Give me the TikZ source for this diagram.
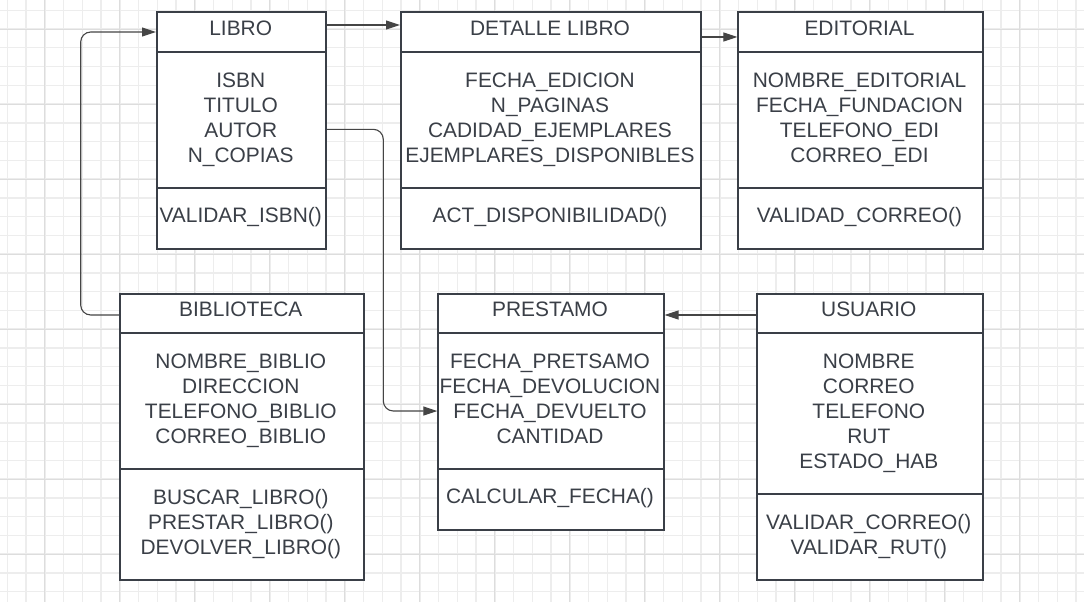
\documentclass[tikz,border=0pt]{standalone}
\usepackage{fontspec}
\setmainfont{Liberation Sans}
\usetikzlibrary{arrows.meta}
\definecolor{ink}{HTML}{3A3F47}
\definecolor{wire}{HTML}{454545}
\definecolor{gridlo}{HTML}{EDEDED}
\definecolor{gridhi}{HTML}{DDDDDD}
\tikzset{
  klass/.style={draw=ink, line width=1.8pt, fill=white, rectangle, inner sep=0pt, anchor=north west},
  sepline/.style={draw=ink, line width=1.8pt},
  txt/.style={font=\fontsize{20.9}{25.2}\selectfont, text=ink, align=center, inner sep=0pt, anchor=north},
  conn/.style={draw=wire, line width=1.1pt, -{Triangle[length=14pt, width=9pt]}},
  minorline/.style={draw=gridlo, line width=1.4pt},
  majorline/.style={draw=gridhi, line width=0.8pt}
}

\begin{document}
\begin{tikzpicture}[x=1pt, y=-1pt]
		\fill[white](0, 0) rectangle (1084, 602);
		\useasboundingbox(0, 0) rectangle (1084, 602);
		% grid
		\foreach \gx in {0,...,57} \draw[minorline](7.3+18.75*\gx, 0)--(7.3+18.75*\gx, 602);
		\foreach \gy in {0,...,31} \draw[minorline](0, 10.3+18.75*\gy)--(1084, 10.3+18.75*\gy);
		\foreach \gx in {0,...,13} \draw[majorline](44.8+75*\gx, 0)--(44.8+75*\gx, 602);
		\foreach \gy in {0,...,7} \draw[majorline](0, 29.3+75*\gy)--(1084, 29.3+75*\gy);
		% classes
		\node[klass, minimum width=169.3, minimum height=237.3] (libro) at (156, 11) {};
		\node[klass, minimum width=300, minimum height=237.3] (detalle) at (400, 11) {};
		\node[klass, minimum width=244.4, minimum height=237.3] (editorial) at (737.3, 11) {};
		\node[klass, minimum width=243.7, minimum height=286.3] (biblio) at (119, 292.7) {};
		\node[klass, minimum width=225.4, minimum height=236.6] (prestamo) at (437.3, 292.7) {};
		\node[klass, minimum width=225.7, minimum height=286.3] (usuario) at (756, 292.7) {};
		\draw[sepline](156, 51.7)--(325.3, 51.7) (156, 187.7)--(325.3, 187.7);
		\draw[sepline](400, 51.7)--(700, 51.7) (400, 187.7)--(700, 187.7);
		\draw[sepline](737.3, 51.7)--(981.7, 51.7) (737.3, 187.7)--(981.7, 187.7);
		\draw[sepline](119, 332.7)--(362.7, 332.7) (119, 468.7)--(362.7, 468.7);
		\draw[sepline](437.3, 332.7)--(662.7, 332.7) (437.3, 468.7)--(662.7, 468.7);
		\draw[sepline](756, 332.7)--(981.7, 332.7) (756, 494)--(981.7, 494);
		% texts
		\node[txt] (libro-t) at (240.7, 21){LIBRO};
		\node[txt] (libro-a) at (240.7, 72.3){ISBN\\TITULO\\AUTOR\\N\_COPIAS};
		\node[txt] (libro-m) at (240.7, 207.5){VALIDAR\_ISBN()};
		\node[txt] (detalle-t) at (550, 21){DETALLE LIBRO};
		\node[txt] (detalle-a) at (550, 72.3){FECHA\_EDICION\\N\_PAGINAS\\CADIDAD\_EJEMPLARES\\EJEMPLARES\_DISPONIBLES};
		\node[txt] (detalle-m) at (550, 207.5){ACT\_DISPONIBILIDAD()};
		\node[txt] (editorial-t) at (859.5, 21){EDITORIAL};
		\node[txt] (editorial-a) at (859.5, 72.3){NOMBRE\_EDITORIAL\\FECHA\_FUNDACION\\TELEFONO\_EDI\\CORREO\_EDI};
		\node[txt] (editorial-m) at (859.5, 207.5){VALIDAD\_CORREO()};
		\node[txt] (biblio-t) at (240.8, 301.7){BIBLIOTECA};
		\node[txt] (biblio-a) at (240.8, 353.3){NOMBRE\_BIBLIO\\DIRECCION\\TELEFONO\_BIBLIO\\CORREO\_BIBLIO};
		\node[txt] (biblio-m) at (240.8, 488.8){BUSCAR\_LIBRO()\\PRESTAR\_LIBRO()\\DEVOLVER\_LIBRO()};
		\node[txt] (prestamo-t) at (550, 301.7){PRESTAMO};
		\node[txt] (prestamo-a) at (550, 353.3){FECHA\_PRETSAMO\\FECHA\_DEVOLUCION\\FECHA\_DEVUELTO\\CANTIDAD};
		\node[txt] (prestamo-m) at (550, 488.3){CALCULAR\_FECHA()};
		\node[txt] (usuario-t) at (868.8, 301.7){USUARIO};
		\node[txt] (usuario-a) at (868.8, 353.3){NOMBRE\\CORREO\\TELEFONO\\RUT\\ESTADO\_HAB};
		\node[txt] (usuario-m) at (868.8, 514.1){VALIDAR\_CORREO()\\VALIDAR\_RUT()};
		% links
		\draw[conn]([yshift=-14pt]libro.north east)--([yshift=-14pt]detalle.north west);
		\draw[conn]([yshift=-26pt]detalle.north east)--([yshift=-26pt]editorial.north west);
		\draw[conn, rounded corners=10pt]([yshift=-22.3pt]biblio.north west)--++(-38.3, 0)|-([yshift=-21pt]libro.north west);
		\draw[conn, rounded corners=10pt]([yshift=-118.3pt]libro.north east)--++(56.2, 0)|-([yshift=-118.3pt]prestamo.north west);
		\draw[conn]([yshift=-22.3pt]usuario.north west)--([yshift=-22.3pt]prestamo.north east);
	\end{tikzpicture}
\end{document}
